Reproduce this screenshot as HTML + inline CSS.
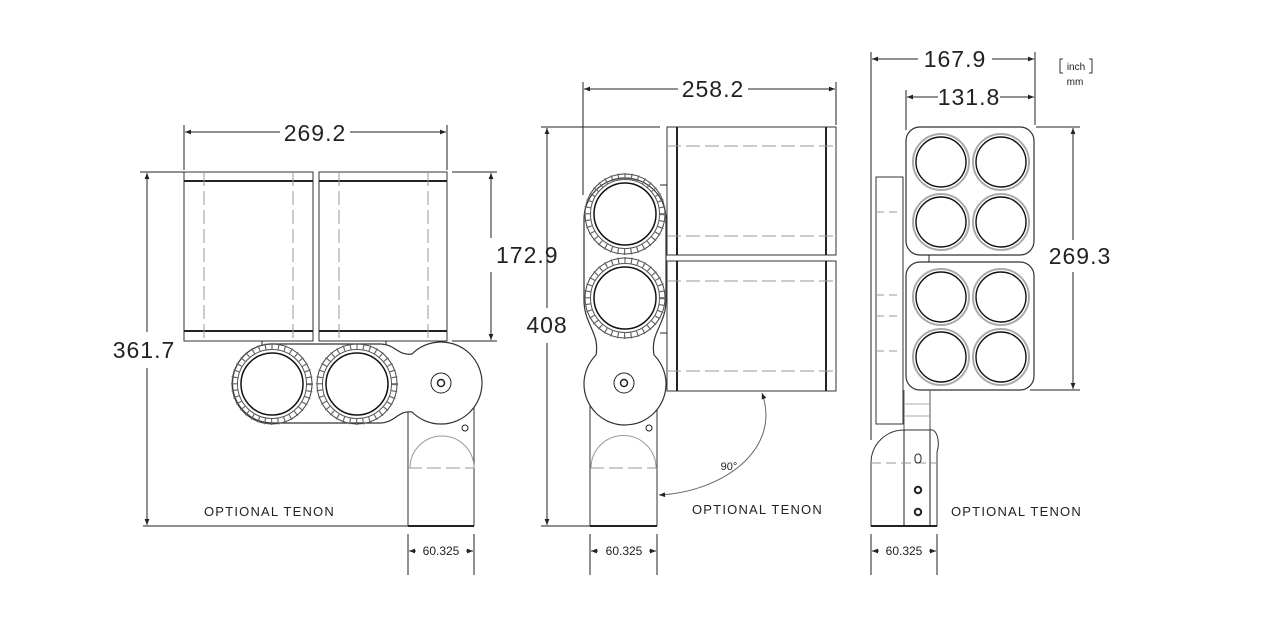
<!DOCTYPE html>
<html><head><meta charset="utf-8"><style>
html,body{margin:0;padding:0;background:#fff;}
svg{display:block;}
text{font-family:"Liberation Sans",sans-serif;fill:#222;}
</style></head><body>
<svg width="1284" height="618" viewBox="0 0 1284 618" xmlns="http://www.w3.org/2000/svg">
<defs>
<marker id="a" viewBox="0 0 10 10" refX="10" refY="5" markerWidth="8" markerHeight="6" orient="auto-start-reverse"><path d="M0,1 L10,5 L0,9 Z" fill="#222"/></marker>
<g id="gear">
<circle r="40" fill="none" stroke="#444" stroke-width="1"/>
<circle r="38" fill="none" stroke="#666" stroke-width="6" stroke-dasharray="1.2 5.4"/>
<circle r="34.5" fill="none" stroke="#555" stroke-width="1"/>
<circle r="31" fill="#fff" stroke="#111" stroke-width="1.5"/>
</g>
<g id="lens">
<circle r="28" fill="none" stroke="#aaa" stroke-width="2"/>
<circle r="25" fill="#fff" stroke="#111" stroke-width="1.4"/>
</g>
</defs>
<g fill="none" stroke="#222" stroke-width="1">

<!-- ===== VIEW 1 ===== -->
<line x1="184" y1="125" x2="184" y2="170"/><line x1="447" y1="125" x2="447" y2="170"/>
<line x1="185" y1="132" x2="280" y2="132" marker-start="url(#a)"/>
<line x1="350" y1="132" x2="446" y2="132" marker-end="url(#a)"/>
<line x1="140" y1="172" x2="184" y2="172"/>
<line x1="452" y1="172" x2="497" y2="172"/><line x1="452" y1="341" x2="497" y2="341"/>
<line x1="491" y1="173" x2="491" y2="238" marker-start="url(#a)"/>
<line x1="491" y1="272" x2="491" y2="340" marker-end="url(#a)"/>
<line x1="147" y1="173" x2="147" y2="332" marker-start="url(#a)"/>
<line x1="147" y1="368" x2="147" y2="525" marker-end="url(#a)"/>
<line x1="143" y1="526" x2="408" y2="526"/>
<rect x="184" y="172" width="129" height="169" stroke="#333"/>
<rect x="319" y="172" width="128" height="169" stroke="#333"/>
<line x1="184" y1="181" x2="313" y2="181" stroke-width="2"/><line x1="184" y1="331" x2="313" y2="331" stroke-width="2"/>
<line x1="319" y1="181" x2="447" y2="181" stroke-width="2"/><line x1="319" y1="331" x2="447" y2="331" stroke-width="2"/>
<g stroke="#999" stroke-dasharray="14 5"><line x1="204" y1="172" x2="204" y2="341"/><line x1="293" y1="172" x2="293" y2="341"/><line x1="339" y1="172" x2="339" y2="341"/><line x1="428" y1="172" x2="428" y2="341"/></g>
<path d="M408,405 L408,526 M474,405 L474,526" stroke="#333"/>
<line x1="408" y1="526" x2="474" y2="526" stroke-width="2"/>
<path d="M410,468 A32,32 0 0 1 474,468" stroke="#999"/>
<line x1="408" y1="468" x2="474" y2="468" stroke="#999" stroke-dasharray="14 5"/>
<circle cx="465" cy="428" r="3"/>
<line x1="262" y1="341" x2="262" y2="345"/><line x1="386" y1="341" x2="386" y2="348"/>
<path d="M272,344 L380,344 C395,344 398,356 412,354 A41,41 0 1 1 412,412 C398,410 395,423 380,423 L272,423 A39.5,39.5 0 0 1 272,344 Z" fill="#fff" stroke="#333" stroke-width="1.2"/>
<use href="#gear" x="272" y="384"/><use href="#gear" x="357" y="384"/>
<circle cx="441" cy="383" r="10"/><circle cx="441" cy="383" r="3.5" stroke-width="1.5"/>
<line x1="408" y1="534" x2="408" y2="575"/><line x1="474" y1="534" x2="474" y2="575"/>
<line x1="416" y1="551" x2="409" y2="551" marker-end="url(#a)"/><line x1="466" y1="551" x2="473" y2="551" marker-end="url(#a)"/>

<!-- ===== VIEW 2 ===== -->
<line x1="583" y1="82" x2="583" y2="195"/><line x1="836" y1="82" x2="836" y2="125"/>
<line x1="584" y1="89" x2="678" y2="89" marker-start="url(#a)"/>
<line x1="748" y1="89" x2="835" y2="89" marker-end="url(#a)"/>
<line x1="541" y1="127" x2="660" y2="127"/><line x1="541" y1="526" x2="590" y2="526"/>
<line x1="547" y1="128" x2="547" y2="308" marker-start="url(#a)"/>
<line x1="547" y1="343" x2="547" y2="525" marker-end="url(#a)"/>
<rect x="667" y="127" width="169" height="128" stroke="#333"/>
<rect x="667" y="261" width="169" height="130" stroke="#333"/>
<g stroke-width="2"><line x1="677" y1="127" x2="677" y2="255"/><line x1="826" y1="127" x2="826" y2="255"/><line x1="677" y1="261" x2="677" y2="391"/><line x1="826" y1="261" x2="826" y2="391"/></g>
<g stroke="#999" stroke-dasharray="14 5"><line x1="667" y1="146" x2="836" y2="146"/><line x1="667" y1="236" x2="836" y2="236"/><line x1="667" y1="281" x2="836" y2="281"/><line x1="667" y1="371" x2="836" y2="371"/></g>
<line x1="660" y1="185" x2="667" y2="185"/><line x1="660" y1="333" x2="667" y2="333"/>
<path d="M590,405 L590,526 M657,405 L657,526" stroke="#333"/>
<line x1="590" y1="526" x2="657" y2="526" stroke-width="2"/>
<path d="M591,468 A32,32 0 0 1 656,468" stroke="#999"/>
<line x1="590" y1="468" x2="657" y2="468" stroke="#999" stroke-dasharray="14 5"/>
<circle cx="649" cy="428" r="3"/>
<path d="M584,300 L584,219 A41,41 0 0 1 666,219 L666,300 C666,325 650,332 654,355 A41,41 0 1 1 596,355 C600,332 584,325 584,300 Z" fill="#fff" stroke="#333" stroke-width="1.2"/>
<use href="#gear" x="625" y="214"/><use href="#gear" x="625" y="298"/>
<circle cx="624" cy="383" r="10"/><circle cx="624" cy="383" r="3.5" stroke-width="1.5"/>
<path d="M762,393 C782,450 722,492 659,495" stroke="#666" marker-start="url(#a)" marker-end="url(#a)"/>
<line x1="590" y1="534" x2="590" y2="575"/><line x1="657" y1="534" x2="657" y2="575"/>
<line x1="598" y1="551" x2="591" y2="551" marker-end="url(#a)"/><line x1="649" y1="551" x2="656" y2="551" marker-end="url(#a)"/>

<!-- ===== VIEW 3 ===== -->
<line x1="871" y1="52" x2="871" y2="440"/><line x1="1035" y1="52" x2="1035" y2="125"/>
<line x1="872" y1="59" x2="918" y2="59" marker-start="url(#a)"/>
<line x1="992" y1="59" x2="1034" y2="59" marker-end="url(#a)"/>
<line x1="906" y1="90" x2="906" y2="130"/>
<line x1="907" y1="97" x2="938" y2="97" marker-start="url(#a)"/>
<line x1="1000" y1="97" x2="1034" y2="97" marker-end="url(#a)"/>
<line x1="1036" y1="127" x2="1080" y2="127"/><line x1="1030" y1="390" x2="1080" y2="390"/>
<line x1="1073" y1="128" x2="1073" y2="240" marker-start="url(#a)"/>
<line x1="1073" y1="272" x2="1073" y2="389" marker-end="url(#a)"/>
<rect x="876" y="177" width="27" height="247" stroke="#333"/>
<g stroke="#999" stroke-dasharray="8 5"><line x1="876" y1="212" x2="903" y2="212"/><line x1="876" y1="295" x2="903" y2="295"/><line x1="876" y1="316" x2="903" y2="316"/><line x1="876" y1="351" x2="903" y2="351"/></g>
<rect x="906" y="127" width="128" height="128" rx="14" fill="#fff" stroke="#333" stroke-width="1.2"/>
<rect x="906" y="262" width="128" height="128" rx="14" fill="#fff" stroke="#333" stroke-width="1.2"/>
<line x1="929" y1="255" x2="929" y2="262"/>
<use href="#lens" x="941" y="162"/><use href="#lens" x="1001" y="162"/>
<use href="#lens" x="941" y="222"/><use href="#lens" x="1001" y="222"/>
<use href="#lens" x="941" y="297"/><use href="#lens" x="1001" y="297"/>
<use href="#lens" x="941" y="357"/><use href="#lens" x="1001" y="357"/>
<path d="M904,390 L904,430 M930,390 L930,430" stroke="#555"/>
<line x1="904" y1="404" x2="930" y2="404" stroke="#aaa"/><line x1="904" y1="416" x2="930" y2="416" stroke="#aaa"/>
<path d="M871,526 L871,463 A33,33 0 0 1 904,430 L930,430 A7,14 0 0 1 937,452 L937,526 Z" stroke="#333"/>
<line x1="904" y1="430" x2="904" y2="526"/><line x1="930" y1="430" x2="930" y2="526"/>
<line x1="871" y1="526" x2="937" y2="526" stroke-width="2"/>
<line x1="871" y1="463" x2="937" y2="463" stroke="#999" stroke-dasharray="10 5"/>
<rect x="915" y="454" width="6" height="9" rx="3"/>
<circle cx="918" cy="490" r="3.2" stroke-width="2"/><circle cx="918" cy="512" r="3.2" stroke-width="2"/>
<line x1="871" y1="534" x2="871" y2="575"/><line x1="937" y1="534" x2="937" y2="575"/>
<line x1="879" y1="551" x2="872" y2="551" marker-end="url(#a)"/><line x1="929" y1="551" x2="936" y2="551" marker-end="url(#a)"/>
<path d="M1063,59 L1060,59 L1060,73 L1063,73 M1089,59 L1092,59 L1092,73 L1089,73" stroke="#333"/>
</g>

<g font-size="23" letter-spacing="1" fill="#333">
<text x="315" y="141" text-anchor="middle">269.2</text>
<text x="496" y="263">172.9</text>
<text x="144" y="358" text-anchor="middle">361.7</text>
<text x="713" y="97" text-anchor="middle">258.2</text>
<text x="547" y="333" text-anchor="middle">408</text>
<text x="955" y="67" text-anchor="middle">167.9</text>
<text x="969" y="105" text-anchor="middle">131.8</text>
<text x="1080" y="264" text-anchor="middle">269.3</text>
</g>
<g font-size="13" letter-spacing="1.2">
<text x="204" y="516">OPTIONAL TENON</text>
<text x="692" y="514">OPTIONAL TENON</text>
<text x="951" y="516">OPTIONAL TENON</text>
</g>
<g font-size="12" text-anchor="middle">
<text x="441" y="555">60.325</text>
<text x="624" y="555">60.325</text>
<text x="904" y="555">60.325</text>
<text x="729" y="470" font-size="11">90°</text>
<text x="1076" y="70" font-size="10">inch</text>
<text x="1075" y="85" font-size="10">mm</text>
</g>
</svg>
</body></html>
